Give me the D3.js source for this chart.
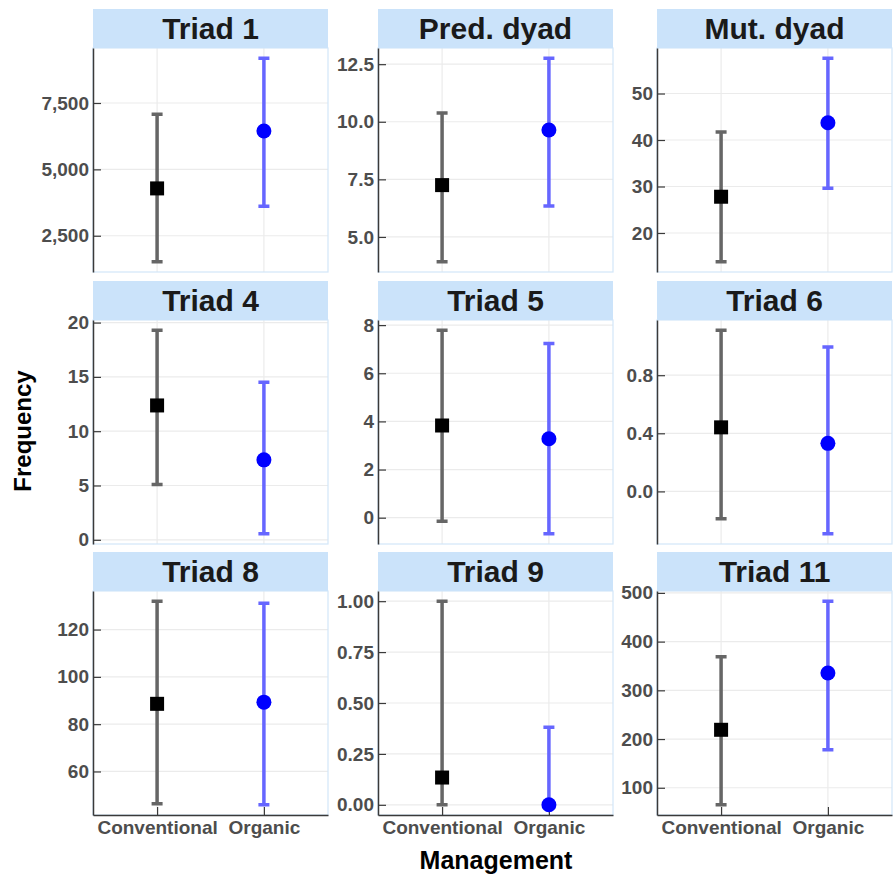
<!DOCTYPE html>
<html>
<head>
<meta charset="utf-8">
<script src="https://cdn.jsdelivr.net/npm/d3@7"></script>
<style>
  html, body { margin: 0; padding: 0; background: #ffffff; }
  svg { display: block; }
  text { font-family: "Liberation Sans", Arial, sans-serif; font-weight: bold; }
</style>
</head>
<body>
<svg id="chart" width="893" height="877"></svg>
<script>
// ---- data ----
const facets = ["Triad 1", "Pred. dyad", "Mut. dyad", "Triad 4", "Triad 5", "Triad 6", "Triad 8", "Triad 9", "Triad 11"];
const managements = ["Conventional", "Organic"];

const convMean  = [4283, 7.25, 27.8, 12.37, 3.83, 0.441, 88.6, 0.134, 219];
const convLower = [1518, 3.92, 13.8, 5.1, -0.15, -0.188, 46.3, 0, 65];
const convUpper = [7073, 10.38, 41.7, 19.3, 7.79, 1.11, 132, 1.0, 369];

const orgMean  = [6443, 9.64, 43.7, 7.36, 3.28, 0.331, 89.3, 0, 335.7];
const orgLower = [3614, 6.34, 29.6, 0.55, -0.67, -0.292, 45.9, 0, 178];
const orgUpper = [9188, 12.76, 57.6, 14.5, 7.24, 0.995, 131.1, 0.381, 483];

const tickValues = [
  [2500, 5000, 7500],
  [5, 7.5, 10, 12.5],
  [20, 30, 40, 50],
  [0, 5, 10, 15, 20],
  [0, 2, 4, 6, 8],
  [0, 0.4, 0.8],
  [60, 80, 100, 120],
  [0, 0.25, 0.5, 0.75, 1],
  [100, 200, 300, 400, 500]
];
const tickLabels = [
  ["2,500", "5,000", "7,500"],
  ["5.0", "7.5", "10.0", "12.5"],
  ["20", "30", "40", "50"],
  ["0", "5", "10", "15", "20"],
  ["0", "2", "4", "6", "8"],
  ["0.0", "0.4", "0.8"],
  ["60", "80", "100", "120"],
  ["0.00", "0.25", "0.50", "0.75", "1.00"],
  ["100", "200", "300", "400", "500"]
];

// ---- layout ----
const colLeft = [93, 378, 657];
const panelW = 235;
const panelTop = [48, 320, 591];
const panelH = 224;
const stripH = 39;

const svg = d3.select("#chart");

const gridColor = "#ebebeb";
const borderColor = "#d3e6f8";
const stripFill = "#cbe3fa";
const axisColor = "#3a3a3a";
const tickTextColor = "#4d4d4d";
const convBarColor = "#666666";
const orgBarColor = "#6666ff";

facets.forEach((name, i) => {
  const col = i % 3, row = Math.floor(i / 3);
  const x0 = colLeft[col], y0 = panelTop[row];
  const g = svg.append("g").attr("transform", `translate(${x0},${y0})`);

  const x = d3.scalePoint().domain(managements).range([0, panelW]).padding(0.6);
  const lo = Math.min(convLower[i], orgLower[i]);
  const hi = Math.max(convUpper[i], orgUpper[i]);
  const pad = (hi - lo) * 0.05;
  const y = d3.scaleLinear().domain([lo - pad, hi + pad]).range([panelH, 0]);

  // background
  g.append("rect").attr("width", panelW).attr("height", panelH).attr("fill", "#ffffff");

  // gridlines
  g.selectAll("line.hgrid").data(tickValues[i]).join("line")
    .attr("class", "hgrid")
    .attr("x1", 0).attr("x2", panelW)
    .attr("y1", d => y(d)).attr("y2", d => y(d))
    .attr("stroke", gridColor).attr("stroke-width", 1.2);
  g.selectAll("line.vgrid").data(managements).join("line")
    .attr("class", "vgrid")
    .attr("y1", 0).attr("y2", panelH)
    .attr("x1", d => x(d)).attr("x2", d => x(d))
    .attr("stroke", gridColor).attr("stroke-width", 1.2);

  // panel border
  g.append("rect").attr("width", panelW).attr("height", panelH)
    .attr("fill", "none").attr("stroke", borderColor).attr("stroke-width", 1.2);

  // strip
  const s = svg.append("g").attr("transform", `translate(${x0},${y0 - stripH})`);
  s.append("rect").attr("width", panelW).attr("height", stripH).attr("fill", stripFill);
  s.append("text").attr("x", panelW / 2).attr("y", stripH / 2 + 10.5)
    .attr("text-anchor", "middle").attr("font-size", 30).attr("fill", "#1a1a1a")
    .text(name);

  // y axis
  const yAxis = d3.axisLeft(y).tickValues(tickValues[i])
    .tickFormat((d, k) => tickLabels[i][k]).tickSizeInner(-8).tickSizeOuter(0).tickPadding(4);
  const ya = g.append("g").call(yAxis);
  ya.select(".domain").attr("stroke", axisColor).attr("stroke-width", 1.5);
  ya.selectAll(".tick line").attr("stroke", axisColor).attr("stroke-width", 1.2);
  ya.selectAll(".tick text").attr("font-size", 19).attr("fill", tickTextColor)
    .attr("font-family", "'Liberation Sans', Arial, sans-serif").attr("font-weight", "bold")
    .attr("x", -4);

  // x axis (bottom row only)
  if (row === 2) {
    const xAxis = d3.axisBottom(x).tickSizeInner(-8).tickSizeOuter(0).tickPadding(6);
    const xa = g.append("g").attr("transform", `translate(0,${panelH})`).call(xAxis);
    xa.select(".domain").attr("stroke", axisColor).attr("stroke-width", 1.5);
    xa.selectAll(".tick line").attr("stroke", axisColor).attr("stroke-width", 1.2);
    xa.selectAll(".tick text").attr("font-size", 19).attr("fill", tickTextColor)
      .attr("font-family", "'Liberation Sans', Arial, sans-serif").attr("font-weight", "bold")
      .attr("y", 6).attr("dy", "0.71em");
  }

  // error bars
  const bars = [
    { m: managements[0], lo: convLower[i], hi: convUpper[i], c: convBarColor },
    { m: managements[1], lo: orgLower[i], hi: orgUpper[i], c: orgBarColor }
  ];
  const cap = 5.5;
  bars.forEach(b => {
    const cx = x(b.m), yl = y(b.lo), yh = y(b.hi);
    const p = d3.path();
    p.moveTo(cx - cap, yh); p.lineTo(cx + cap, yh);
    p.moveTo(cx, yh); p.lineTo(cx, yl);
    p.moveTo(cx - cap, yl); p.lineTo(cx + cap, yl);
    g.append("path").attr("d", p.toString()).attr("fill", "none")
      .attr("stroke", b.c).attr("stroke-width", 3.5);
  });

  // points
  const sq = 14;
  g.append("rect")
    .attr("x", x(managements[0]) - sq / 2).attr("y", y(convMean[i]) - sq / 2)
    .attr("width", sq).attr("height", sq).attr("fill", "#000000");
  g.append("circle")
    .attr("cx", x(managements[1])).attr("cy", y(orgMean[i])).attr("r", 7.5)
    .attr("fill", "#0000ff");
});

// axis titles
svg.append("text").attr("transform", "translate(31,431) rotate(-90)")
  .attr("text-anchor", "middle").attr("font-size", 24).attr("fill", "#000000")
  .text("Frequency");
svg.append("text").attr("x", 496).attr("y", 869)
  .attr("text-anchor", "middle").attr("font-size", 25).attr("fill", "#000000")
  .text("Management");
</script>
</body>
</html>
